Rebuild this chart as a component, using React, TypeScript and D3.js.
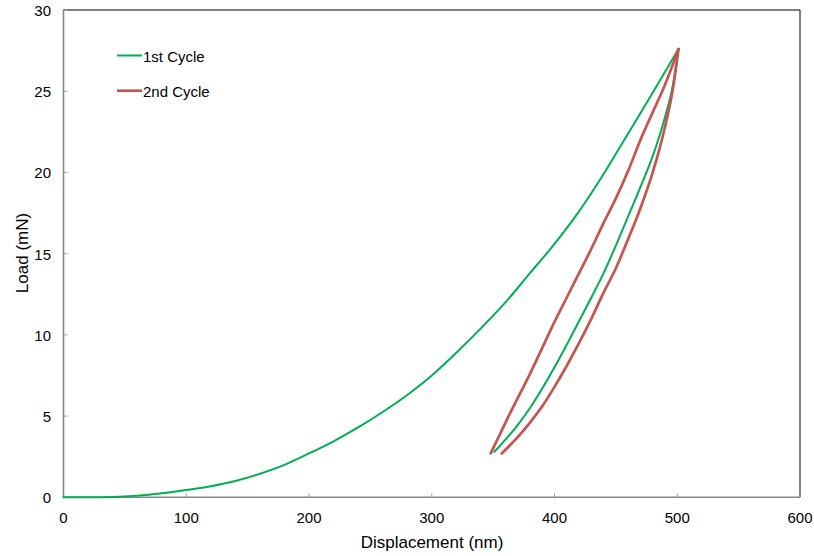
import React from "react";
import * as d3 from "d3";

// 1st cycle loading
const load1X = [0, 20, 40, 60, 80, 100, 120, 140, 160, 180, 200, 220, 240, 260, 280, 300, 320, 340, 360, 380, 400, 420, 440, 460, 480, 501];
const load1Y = [0, 0, 0.02, 0.1, 0.25, 0.45, 0.68, 1.0, 1.45, 2.0, 2.7, 3.45, 4.3, 5.25, 6.3, 7.5, 8.9, 10.4, 12.0, 13.8, 15.6, 17.6, 19.9, 22.4, 24.9, 27.6];
// 1st cycle unloading
const unload1X = [501, 496, 490, 480, 470, 460, 450, 440, 430, 420, 410, 400, 390, 380, 370, 360, 351];
const unload1Y = [27.6, 25.2, 23.4, 21.0, 19.1, 17.3, 15.5, 13.8, 12.3, 10.85, 9.4, 8.0, 6.7, 5.5, 4.45, 3.55, 2.8];
// 2nd cycle loading
const load2X = [348, 355, 362, 370, 380, 390, 400, 410, 420, 430, 440, 450, 460, 470, 480, 490, 501];
const load2Y = [2.7, 3.8, 4.9, 6.1, 7.6, 9.2, 10.8, 12.3, 13.8, 15.3, 16.9, 18.4, 20.1, 22.0, 23.7, 25.4, 27.6];
// 2nd cycle unloading
const unload2X = [501, 497, 490, 480, 470, 460, 450, 440, 430, 420, 410, 400, 390, 380, 370, 357];
const unload2Y = [27.6, 25.4, 22.8, 20.0, 17.8, 15.9, 14.1, 12.6, 11.0, 9.5, 8.1, 6.8, 5.6, 4.6, 3.7, 2.7];

const xTicks = [0, 100, 200, 300, 400, 500, 600];
const yTicks = [0, 5, 10, 15, 20, 25, 30];
const seriesNames = ["1st Cycle", "2nd Cycle"];
const seriesColors = ["#00b050", "#c4554f"];

const W = 814, H = 556;
const left = 63.5, right = 800, top = 10, bottom = 497.3;
const font = "'Liberation Sans', Arial, sans-serif";

export default function App() {
  const x = d3.scaleLinear().domain([0, 600]).range([left, right]);
  const y = d3.scaleLinear().domain([0, 30]).range([bottom, top]);
  const line = d3.line<[number, number]>().x(d => x(d[0])).y(d => y(d[1])).curve(d3.curveMonotoneX);
  const zip = (a: number[], b: number[]) =>
    a.map((v, i) => [v, b[i]] as [number, number]).sort((p, q) => p[0] - q[0]);

  const curves = [
    { d: zip(load1X, load1Y), c: seriesColors[0], w: 2 },
    { d: zip(unload1X, unload1Y), c: seriesColors[0], w: 2 },
    { d: zip(load2X, load2Y), c: seriesColors[1], w: 2.7 },
    { d: zip(unload2X, unload2Y), c: seriesColors[1], w: 2.7 },
  ];

  return (
    <svg width={W} height={H} style={{ position: "fixed", left: 0, top: 0, background: "#fff" }} fontFamily={font}>
      <rect x={0} y={0} width={W} height={H} fill="#fff" />
      {/* frame */}
      <line x1={left} x2={right} y1={top} y2={top} stroke="#000" strokeWidth={1} />
      <line x1={right} x2={right} y1={top} y2={bottom} stroke="#000" strokeWidth={1} />
      {/* ticks */}
      {xTicks.map(t => (
        <g key={"x" + t}>
          <line x1={x(t)} x2={x(t)} y1={bottom} y2={bottom - 4} stroke="#a0a0a0" strokeWidth={1} />
          <text x={x(t)} y={bottom + 26} textAnchor="middle" fontSize={15} fill="#000">{t}</text>
        </g>
      ))}
      {yTicks.map(t => (
        <g key={"y" + t}>
          <line x1={left} x2={left + 4} y1={y(t)} y2={y(t)} stroke="#a0a0a0" strokeWidth={1} />
          <text x={51} y={y(t) + 6} textAnchor="end" fontSize={15} fill="#000">{t}</text>
        </g>
      ))}
      <line x1={left} x2={left} y1={top - 0.5} y2={bottom + 1} stroke="#888" strokeWidth={1.6} />
      <line x1={left - 0.8} x2={right} y1={bottom} y2={bottom} stroke="#888" strokeWidth={1.6} />
      {/* curves */}
      {curves.map((c, i) => (
        <path key={i} d={line(c.d) || ""} fill="none" stroke={c.c} strokeWidth={c.w} strokeLinejoin="round" strokeLinecap="round" />
      ))}
      {/* legend */}
      {seriesNames.map((n, i) => (
        <g key={n}>
          <line x1={117} x2={142} y1={55.5 + i * 35.2} y2={55.5 + i * 35.2} stroke={seriesColors[i]} strokeWidth={i === 0 ? 2 : 2.7} />
          <text x={143} y={62 + i * 35.2} fontSize={15} fill="#000">{n}</text>
        </g>
      ))}
      {/* axis titles */}
      <text x={432} y={548} textAnchor="middle" fontSize={17} fill="#000">Displacement (nm)</text>
      <text transform={`translate(28,${253}) rotate(-90)`} textAnchor="middle" fontSize={17} fill="#000">Load (mN)</text>
    </svg>
  );
}
